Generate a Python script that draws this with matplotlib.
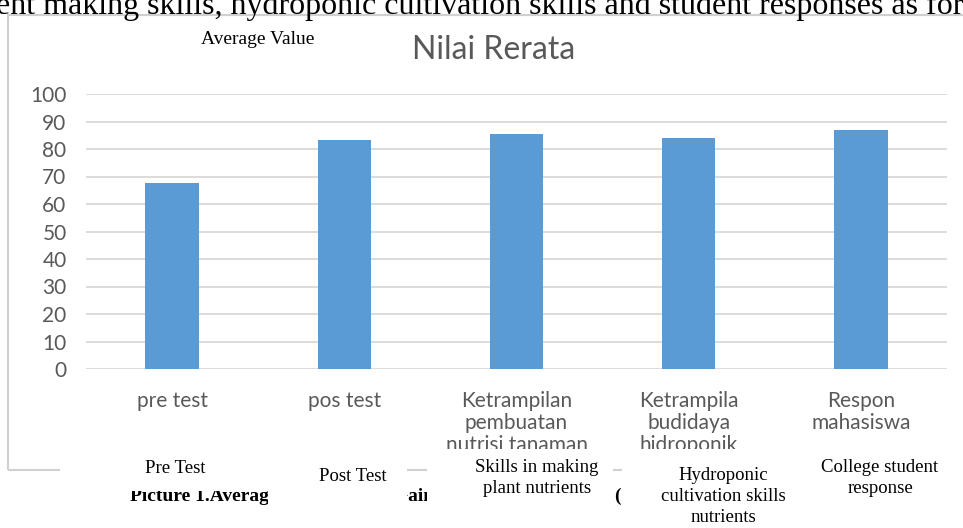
import matplotlib.pyplot as plt
from matplotlib.patches import Rectangle

categories = ["pre test", "pos test", "Ketrampilan\npembuatan\nnutrisi tanaman",
              "Ketrampila\nbudidaya\nhidroponik", "Respon\nmahasiswa"]
values = [67.5, 83.2, 85.3, 84.1, 86.8]
yticks = [0, 10, 20, 30, 40, 50, 60, 70, 80, 90, 100]

english = ["Pre Test", "Post Test", "Skills in making\nplant nutrients",
           "Hydroponic\ncultivation skills\nnutrients", "College student\nresponse"]

W, H = 963, 528
fig = plt.figure(figsize=(W / 100, H / 100), dpi=100)

def fx(px):
    return px / W

def fy(py):
    return 1 - py / H

gray = "#595959"
sans = "Lato"
serif = "Liberation Serif"

# outer chart frame
fig.patches.append(Rectangle((fx(8), fy(470)), fx(970) - fx(8), fy(15) - fy(470),
                             transform=fig.transFigure, fill=False,
                             edgecolor="#d0d0d0", lw=1.5, zorder=1))

ax = fig.add_axes([fx(86), fy(369), fx(947) - fx(86), fy(94) - fy(369)])
x = range(len(categories))
ax.bar(x, values, width=0.31, color="#5b9bd5", zorder=3)
ax.set_xlim(-0.5, len(categories) - 0.5)
ax.set_ylim(0, 100)
ax.set_yticks(yticks)
ax.set_xticks(list(x))
ax.set_xticklabels(categories, linespacing=1.12)
ax.yaxis.grid(True, color="#d9d9d9", lw=1.3, zorder=0)
for s in ax.spines.values():
    s.set_visible(False)
ax.tick_params(length=0, colors=gray, labelsize=15)
ax.tick_params(axis="y", pad=14)
ax.tick_params(axis="x", pad=16)
for lab in ax.get_xticklabels() + ax.get_yticklabels():
    lab.set_fontfamily(sans)
ax.set_facecolor("none")

fig.text(fx(494), fy(50), "Nilai Rerata", ha="center", va="center",
         fontsize=23, color=gray, family=sans)
fig.text(fx(258), fy(40), "Average Value", ha="center", va="center",
         fontsize=14, color="black", family=serif)

# document text around the chart
fig.text(fx(-4), fy(14), "ent making skills, hydroponic cultivation skills and student responses as for",
         ha="left", va="baseline", fontsize=23, color="black", family=serif)
fig.text(fx(130), fy(501), "Picture 1.Average Value of", ha="left", va="baseline",
         fontsize=14, fontweight="bold", color="black", family=serif)
fig.text(fx(393), fy(501), "Gain", ha="left", va="baseline",
         fontsize=14, fontweight="bold", color="black", family=serif)
fig.text(fx(614), fy(501), "(", ha="left", va="baseline",
         fontsize=14, fontweight="bold", color="black", family=serif)

# white label boxes pasted over the bottom
boxes = [(60, 449, 268, 491), (268, 449, 407, 515), (427, 449, 613, 512),
         (622, 449, 812, 528), (812, 449, 963, 522)]
centers = [175, 353, 537, 723, 880]
tops = [460, 468, 459, 467, 459]
for (x0, y0, x1, y1), cx, ty, lab in zip(boxes, centers, tops, english):
    fig.patches.append(Rectangle((fx(x0), fy(y1)), fx(x1) - fx(x0), fy(y0) - fy(y1),
                                 transform=fig.transFigure, facecolor="white",
                                 edgecolor="none", zorder=5))
    fig.text(fx(cx), fy(ty), lab, ha="center", va="top",
             fontsize=13.5, color="black", family=serif, linespacing=1.3, zorder=6)

fig.savefig("out.png", dpi=100)
